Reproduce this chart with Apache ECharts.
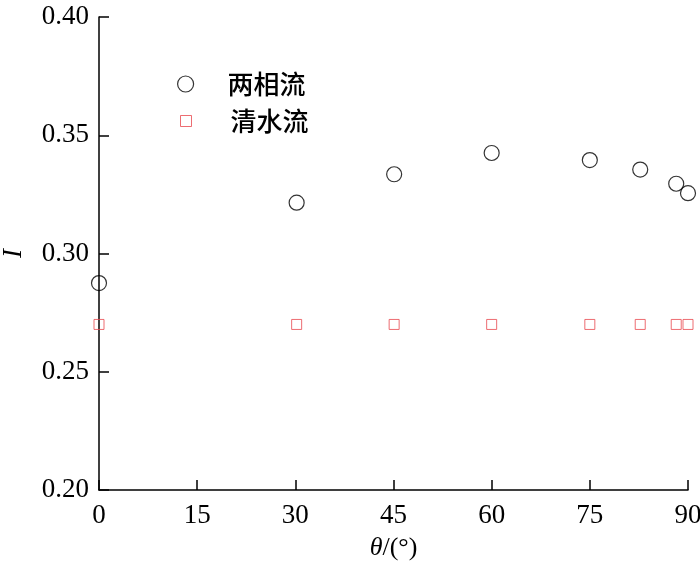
<!DOCTYPE html>
<html><head><meta charset="utf-8">
<script src="https://cdn.jsdelivr.net/npm/echarts@6/dist/echarts.min.js"></script>
<style>html,body{margin:0;padding:0;background:#fff}#c{width:700px;height:566px}</style>
</head><body><div id="c"></div>
<script>
const seriesNames = ['两相流', '清水流'];
const thetaTwoPhase = [0, 30.2, 45.1, 60, 75, 82.7, 88.2, 90];
const iTwoPhase = [0.2875, 0.3215, 0.3335, 0.3425, 0.3395, 0.3355, 0.3295, 0.3255];
const thetaClear = [0, 30.2, 45.1, 60, 75, 82.7, 88.2, 90];
const iClear = [0.270, 0.270, 0.270, 0.270, 0.270, 0.270, 0.270, 0.270];
const xTicks = [0, 15, 30, 45, 60, 75, 90];
const yTicks = [0.20, 0.25, 0.30, 0.35, 0.40];

const serif = '"Liberation Serif","Times New Roman",serif';
const cjk = '"Noto Sans CJK SC",sans-serif';
const chart = echarts.init(document.getElementById('c'));
chart.setOption({
  animation: false,
  backgroundColor: '#fff',
  grid: {left: 99, right: 12, top: 17, bottom: 76, containLabel: false, outerBoundsMode: 'none'},
  legend: [
    {
      left: 172, top: 66, itemWidth: 16, itemHeight: 16,
      textStyle: {fontSize: 26, fontFamily: cjk, fontWeight: 500, color: '#000', padding: [0, 0, 0, 29]},
      data: [{name: seriesNames[0], icon: 'circle', itemStyle: {color: 'transparent', borderColor: '#000', borderWidth: 1.2}}]
    },
    {
      left: 175, top: 103, itemWidth: 11, itemHeight: 11,
      textStyle: {fontSize: 26, fontFamily: cjk, fontWeight: 500, color: '#000', padding: [0, 0, 0, 34]},
      data: [{name: seriesNames[1], icon: 'rect', itemStyle: {color: 'transparent', borderColor: '#e8494f', borderWidth: 1}}]
    }
  ],
  xAxis: {
    type: 'value', min: xTicks[0], max: xTicks[xTicks.length - 1], interval: 15,
    name: '{i|θ}/(°)', nameLocation: 'middle', nameGap: 45,
    nameTextStyle: {fontSize: 26, fontFamily: serif, color: '#000',
      rich: {i: {fontSize: 26, fontFamily: serif, fontStyle: 'italic', color: '#000'}}},
    axisLine: {lineStyle: {color: '#000', width: 1.5}},
    axisTick: {inside: true, length: 10, lineStyle: {color: '#000', width: 1.5}},
    axisLabel: {fontSize: 27, fontFamily: serif, color: '#000', margin: 12},
    splitLine: {show: false}
  },
  yAxis: {
    type: 'value', min: yTicks[0], max: yTicks[yTicks.length - 1], interval: 0.05,
    name: 'I', nameLocation: 'middle', nameGap: 72, nameRotate: 90,
    nameTextStyle: {fontSize: 27, fontFamily: serif, fontStyle: 'italic', color: '#000'},
    axisLine: {lineStyle: {color: '#000', width: 1.5}},
    axisTick: {inside: true, length: 10, lineStyle: {color: '#000', width: 1.5}},
    axisLabel: {fontSize: 27, fontFamily: serif, color: '#000', margin: 10,
      formatter: v => v.toFixed(2)},
    splitLine: {show: false}
  },
  series: [
    {
      name: seriesNames[0], type: 'scatter', symbol: 'circle', symbolSize: 15,
      itemStyle: {color: 'transparent', borderColor: '#000', borderWidth: 1.2},
      data: thetaTwoPhase.map((x, i) => [x, iTwoPhase[i]]),
      clip: false
    },
    {
      name: seriesNames[1], type: 'scatter', symbol: 'rect', symbolSize: 10,
      itemStyle: {color: 'transparent', borderColor: '#e8494f', borderWidth: 1},
      data: thetaClear.map((x, i) => [x, iClear[i]]),
      clip: false
    }
  ]
});
</script></body></html>
